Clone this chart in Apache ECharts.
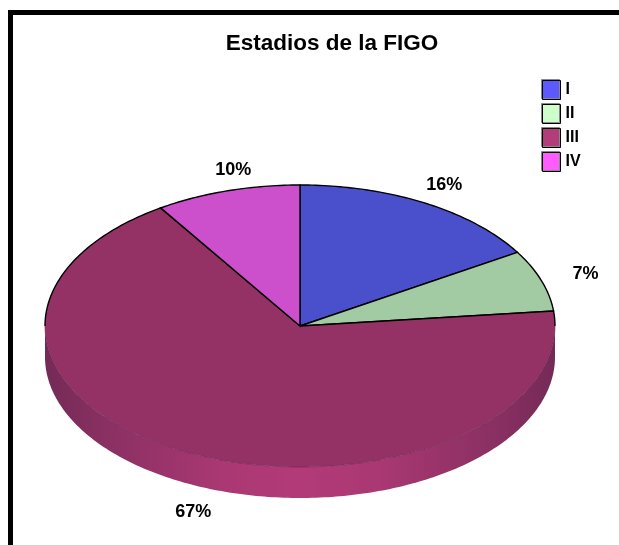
<!DOCTYPE html>
<html>
<head>
<meta charset="utf-8">
<title>Estadios de la FIGO</title>
<script src="https://cdn.jsdelivr.net/npm/echarts@6/dist/echarts.min.js"></script>
<style>
  html, body { margin: 0; padding: 0; background: #fff; }
  #chart { width: 619px; height: 545px; }
</style>
</head>
<body>
<div id="chart"></div>
<script>
const stages = ['I', 'II', 'III', 'IV'];
// slice sizes as measured on the picture, the printed labels are rounded differently
const shares = [16.25, 7.05, 67.5, 9.2];
const percentLabels = ['16%', '7%', '67%', '10%'];

const topColors = ['#4a50cc', '#a3cba3', '#953265', '#cc50cc'];
const legendColors = ['#5a5aff', '#ccffcc', '#b33c7a', '#ff5cff'];

// layout of the tilted pie
const CX = 300, CY = 326, RX = 255, RY = 141, DEPTH = 31;
const FONT = '"Liberation Sans", Arial, sans-serif';
const labelAt = [8.18, 19.9, 55.8, 96.3]; // along the rim, in share units
const labelRadius = [1.15, 1.18, 1.175, 1.135];

const chart = echarts.init(document.getElementById('chart'));

// polar point squashed vertically to the pie's tilt
function project(api, r, share) {
  const p = api.coord([r, share]);
  return [p[0], CY + (p[1] - CY) * RY / RX];
}

function arcPoints(api, from, to) {
  const pts = [];
  const steps = Math.max(2, Math.ceil((to - from) * 4));
  for (let i = 0; i <= steps; i++) {
    pts.push(project(api, 1, from + (to - from) * i / steps));
  }
  return pts;
}

function renderSlice(idx) {
  return function (params, api) {
    const from = api.value(0);
    const to = api.value(1);
    const center = project(api, 0, from);
    const rim = arcPoints(api, from, to);
    const children = [];
    const isBig = stages[idx] === 'III';

    if (isBig) {
      // side wall, only the front half of the rim shows
      const front = arcPoints(api, 25, 75);
      const lower = front.map((p) => [p[0], p[1] + DEPTH]).reverse();
      children.push({
        type: 'polygon',
        shape: { points: front.concat(lower) },
        style: {
          fill: {
            type: 'linear', x: 1, y: 0, x2: 0, y2: 0,
            colorStops: [
              { offset: 0, color: '#742a56' },
              { offset: 0.12, color: '#8a3062' },
              { offset: 0.35, color: '#aa3873' },
              { offset: 0.5, color: '#b23a78' },
              { offset: 0.65, color: '#aa3873' },
              { offset: 0.88, color: '#8a3062' },
              { offset: 1, color: '#742a56' }
            ]
          }
        }
      });
    }

    children.push({
      type: 'polygon',
      shape: { points: [center].concat(rim) },
      style: { fill: topColors[idx], stroke: isBig ? null : '#000', lineWidth: 1.4 }
    });

    if (isBig) {
      // black on the back of the rim and the radii, hairline on the front
      children.push({
        type: 'polyline',
        shape: { points: arcPoints(api, 25, 75) },
        style: { fill: null, stroke: '#6a2450', lineWidth: 0.6 }
      });
      [[center].concat(arcPoints(api, from, 25)),
       arcPoints(api, 75, to).concat([center])].forEach((points) => {
        children.push({
          type: 'polyline',
          shape: { points },
          style: { fill: null, stroke: '#000', lineWidth: 1.4 }
        });
      });
    }

    const lp = project(api, labelRadius[idx], labelAt[idx]);
    const inFront = labelAt[idx] > 25 && labelAt[idx] < 75;
    children.push({
      type: 'text',
      style: {
        text: percentLabels[idx],
        x: lp[0],
        y: lp[1] + (inFront ? DEPTH : 0),
        fill: '#000',
        font: 'bold 18px ' + FONT,
        align: 'center',
        verticalAlign: 'middle'
      }
    });
    return { type: 'group', children };
  };
}

// running totals give each slice its start and end on the angle axis
let running = 0;
const series = stages.map((name, i) => {
  const start = running;
  running += shares[i];
  return {
    name,
    type: 'custom',
    coordinateSystem: 'polar',
    silent: true,
    animation: false,
    itemStyle: { color: legendColors[i] },
    renderItem: renderSlice(i),
    data: [[start, running]]
  };
});

chart.setOption({
  backgroundColor: '#fff',
  animation: false,
  title: {
    text: 'Estadios de la FIGO',
    left: 332,
    top: 32,
    padding: 0,
    textAlign: 'center',
    textStyle: { fontFamily: FONT, fontWeight: 'bold', fontSize: 22.5, color: '#000' }
  },
  legend: {
    orient: 'vertical',
    left: 542,
    top: 80,
    padding: 0,
    align: 'left',
    itemWidth: 18,
    itemHeight: 19,
    itemGap: 4,
    selectedMode: false,
    textStyle: { fontFamily: FONT, fontWeight: 'bold', fontSize: 16, color: '#000' },
    data: stages.map((name, i) => ({
      name,
      icon: 'rect',
      itemStyle: {
        color: legendColors[i],
        borderColor: '#000',
        borderWidth: 1,
        shadowColor: '#888',
        shadowBlur: 0,
        shadowOffsetX: -1,
        shadowOffsetY: -1
      }
    }))
  },
  polar: { center: [CX, CY], radius: RX },
  angleAxis: { type: 'value', min: 0, max: 100, startAngle: 90, show: false },
  radiusAxis: { type: 'value', min: 0, max: 1, show: false },
  graphic: [
    { type: 'rect', shape: { x: 8, y: 10, width: 611, height: 5 }, style: { fill: '#000' } },
    { type: 'rect', shape: { x: 8, y: 10, width: 5, height: 535 }, style: { fill: '#000' } }
  ],
  series
});
</script>
</body>
</html>
